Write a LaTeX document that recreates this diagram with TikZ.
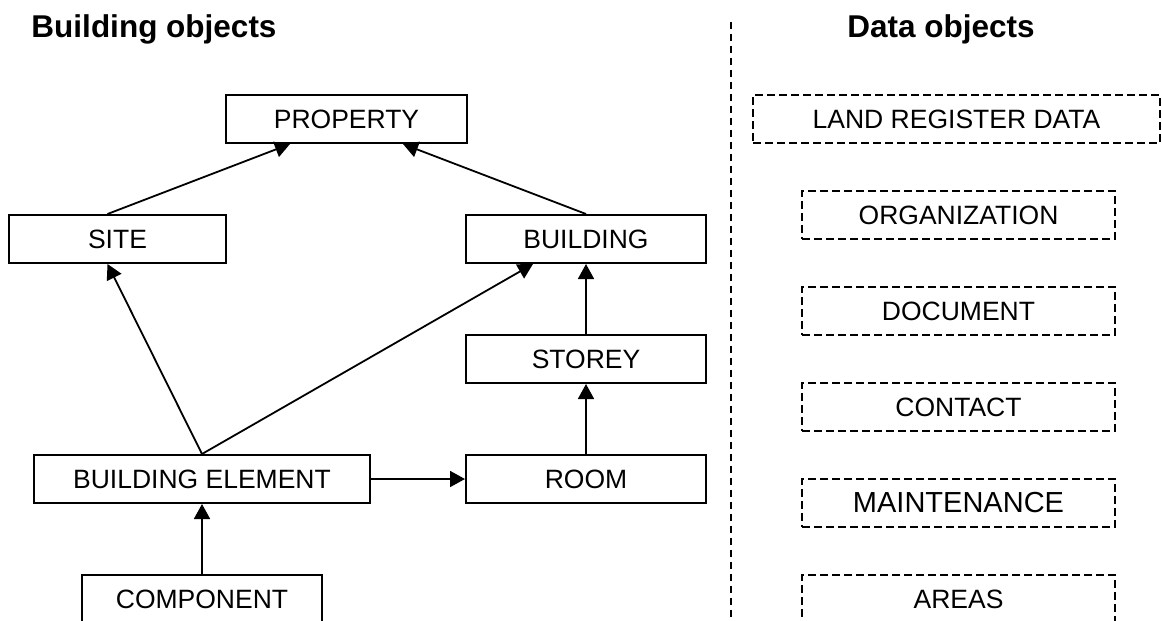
\documentclass[tikz,border=0pt]{standalone}
\usepackage{fontspec}
\setmainfont{Liberation Sans}
\usepackage{tikz}
\usetikzlibrary{positioning,calc,arrows.meta}

\begin{document}
\begin{tikzpicture}[x=1pt,y=-1pt,
    obj/.style={draw, line width=2pt, minimum height=48pt, inner sep=0pt, font=\fontsize{26.5}{30}\selectfont},
    dobj/.style={obj, line width=1.8pt, dash pattern=on 8pt off 4pt, minimum width=313pt},
    link/.style={line width=1.8pt, -{Triangle[length=15pt,width=16pt]}},
    title/.style={anchor=base, font=\fontsize{31.5}{36}\selectfont\bfseries}]
    \useasboundingbox (0,0) rectangle (1162,621);

    % Titles
    \node[title] (bldtitle) at (154,37) {Building objects};
    \node[title] (datatitle) at (941,37) {Data objects};

    % Building objects
    \node[obj, minimum width=241pt] (property) at (346.5,119) {PROPERTY};
    \node[obj, minimum width=217pt] (site) at (117.5,239) {SITE};
    \node[obj, minimum width=240pt] (building) at (586,239) {BUILDING};
    \node[obj, minimum width=240pt] (storey) at (586,359) {STOREY};
    \node[obj, minimum width=240pt] (room) at (586,479) {ROOM};
    \node[obj, minimum width=336pt] (element) at (202,479) {BUILDING ELEMENT};
    \node[obj, minimum width=240pt] (component) at (202,599) {COMPONENT};

    \draw[link] ($(site.north)+(-10,0)$) -- ($(property.south)+(-56.5,0)$);
    \draw[link] (building.north) -- ($(property.south)+(56.5,0)$);
    \draw[link] (element.north) -- ($(site.south)+(-10,0)$);
    \draw[link] (element.north) -- ($(building.south)+(-53,0)$);
    \draw[link] (storey.north) -- (building.south);
    \draw[link] (room.north) -- (storey.south);
    \draw[link] (element.east) -- (room.west);
    \draw[link] (component.north) -- (element.south);

    % Separator
    \coordinate (septop) at (731,22);
    \coordinate (sepbot) at (731,621);
    \draw[line width=1.6pt, dash pattern=on 7pt off 5pt] (septop) -- (sepbot);

    % Data objects
    \node[dobj, minimum width=407pt] (land) at (956.5,119) {LAND REGISTER DATA};
    \node[dobj] (organization) at (958.5,215) {ORGANIZATION};
    \node[dobj] (document) at (958.5,311) {DOCUMENT};
    \node[dobj] (contact) at (958.5,407) {CONTACT};
    \node[dobj, font=\fontsize{29}{32}\selectfont] (maintenance) at (958.5,503) {MAINTENANCE};
    \node[dobj] (areas) at (958.5,599) {AREAS};
\end{tikzpicture}
\end{document}
